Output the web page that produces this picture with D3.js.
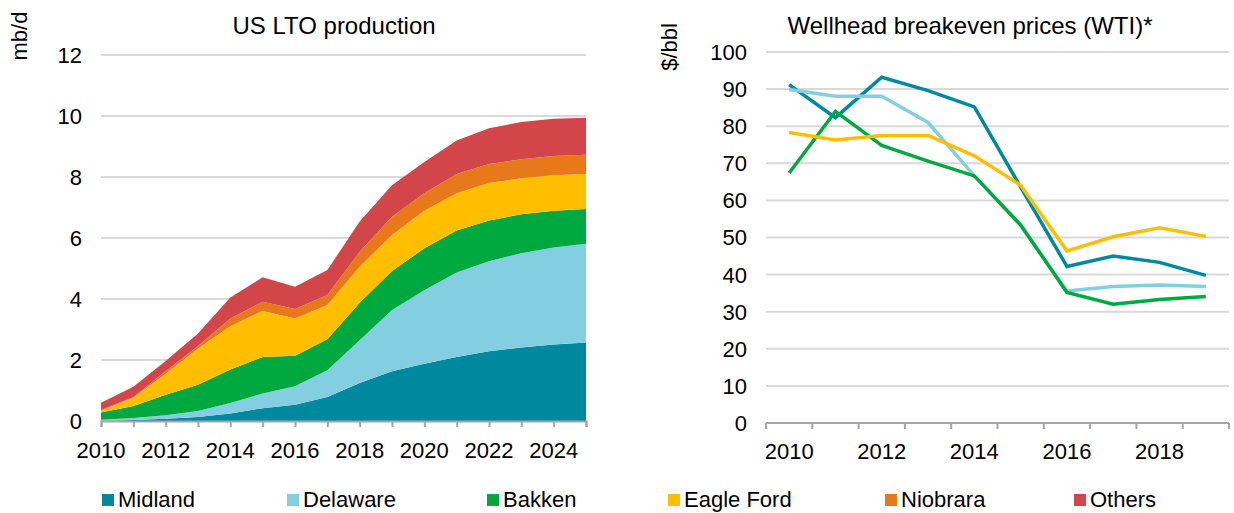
<!DOCTYPE html>
<html>
<head>
<meta charset="utf-8">
<script src="https://cdn.jsdelivr.net/npm/d3@7/dist/d3.min.js"></script>
<style>
  html, body { margin: 0; padding: 0; background: #fff; }
  svg { display: block; font-family: "Liberation Sans", Arial, sans-serif; }
</style>
</head>
<body>
<svg id="chart" width="1234" height="513"></svg>
<script>
// ---------- Data ----------
const years = [2010,2011,2012,2013,2014,2015,2016,2017,2018,2019,2020,2021,2022,2023,2024,2025];
const midland   = [0.00,0.03,0.07,0.13,0.25,0.42,0.53,0.79,1.25,1.63,1.88,2.10,2.29,2.41,2.51,2.57];
const delaware  = [0.04,0.07,0.12,0.20,0.34,0.48,0.61,0.87,1.40,2.01,2.41,2.77,2.95,3.09,3.18,3.24];
const bakken    = [0.24,0.39,0.67,0.86,1.10,1.20,1.00,1.02,1.23,1.28,1.37,1.38,1.33,1.28,1.20,1.14];
const eagleFord = [0.06,0.27,0.69,1.19,1.42,1.51,1.22,1.12,1.18,1.18,1.23,1.22,1.23,1.18,1.17,1.15];
const niobrara  = [0.02,0.03,0.08,0.08,0.25,0.30,0.31,0.33,0.49,0.60,0.58,0.63,0.63,0.62,0.63,0.63];
const others    = [0.24,0.33,0.34,0.41,0.69,0.80,0.73,0.82,0.99,1.03,1.02,1.10,1.17,1.22,1.22,1.21];
const prodTicks = [0,2,4,6,8,10,12];
const prodYearLabels = [2010,2012,2014,2016,2018,2020,2022,2024];

const beYears = [2010,2011,2012,2013,2014,2015,2016,2017,2018,2019];
const beMidland   = [91.2,82.3,93.2,89.6,85.2,63.6,42.2,45.0,43.3,39.8];
const beDelaware  = [89.9,88.1,88.1,81.0,66.6,53.2,35.6,36.8,37.2,36.8];
const beBakken    = [67.4,84.0,74.8,70.6,66.6,53.4,35.2,32.0,33.3,34.1];
const beEagleFord = [78.3,76.3,77.5,77.5,72.0,64.1,46.4,50.2,52.6,50.3];
const priceTicks = [0,10,20,30,40,50,60,70,80,90,100];
const beYearLabels = [2010,2012,2014,2016,2018];

const seriesNames  = ["Midland","Delaware","Bakken","Eagle Ford","Niobrara","Others"];
const seriesColors = ["#00889F","#83CFE1","#00A940","#FFBF00","#E8791A","#D2464A"];

// ---------- Setup ----------
const svg = d3.select("#chart");
const FONT = 22;
const gridColor = "#d9d9d9";
const axisColor = "#a6a6a6";

// ===== Left chart: stacked area =====
const L = {left: 101, right: 586, top: 55, bottom: 421};
const xL = d3.scaleLinear().domain([2010, 2025]).range([L.left, L.right]);
const yL = d3.scaleLinear().domain([0, 12]).range([L.bottom, L.top]);

const prodRows = years.map((y, i) => ({
  year: y,
  "Midland": midland[i], "Delaware": delaware[i], "Bakken": bakken[i],
  "Eagle Ford": eagleFord[i], "Niobrara": niobrara[i], "Others": others[i]
}));
const stacked = d3.stack().keys(seriesNames)(prodRows);

const gL = svg.append("g");
// gridlines
gL.append("g").selectAll("line").data(prodTicks.filter(t => t > 0)).join("line")
  .attr("x1", L.left).attr("x2", L.right)
  .attr("y1", d => yL(d)).attr("y2", d => yL(d))
  .attr("stroke", gridColor).attr("stroke-width", 2);

const area = d3.area()
  .x(d => xL(d.data.year)).y0(d => yL(d[0])).y1(d => yL(d[1]));
gL.append("g").selectAll("path").data(stacked).join("path")
  .attr("d", area).attr("fill", (d, i) => seriesColors[i]);

// y axis labels
gL.append("g").selectAll("text").data(prodTicks).join("text")
  .attr("x", 82).attr("y", d => yL(d)).attr("dy", "0.36em")
  .attr("text-anchor", "end").attr("font-size", FONT).attr("fill", "#000")
  .text(d => d);

// x axis
const xAxisL = d3.axisBottom(xL).tickValues(years).tickSize(6).tickFormat("");
const axL = gL.append("g").attr("transform", `translate(0,${L.bottom})`).call(xAxisL);
axL.select(".domain").attr("stroke", axisColor).attr("stroke-width", 2);
axL.selectAll(".tick line").attr("stroke", axisColor).attr("stroke-width", 2);
gL.append("g").selectAll("text").data(prodYearLabels).join("text")
  .attr("x", d => xL(d)).attr("y", 458)
  .attr("text-anchor", "middle").attr("font-size", FONT).attr("fill", "#000")
  .text(d => d);

// title + unit
gL.append("text").attr("x", 334).attr("y", 34).attr("text-anchor", "middle")
  .attr("font-size", 24).attr("fill", "#000").text("US LTO production");
gL.append("text").attr("transform", "translate(27,36) rotate(-90)")
  .attr("text-anchor", "middle").attr("font-size", FONT).attr("fill", "#000").text("mb/d");

// ===== Right chart: lines =====
const R = {left: 766, right: 1229, top: 52, bottom: 423};
const xR = d3.scaleBand().domain(beYears).range([R.left, R.right]);
const yR = d3.scaleLinear().domain([0, 100]).range([R.bottom, R.top]);
const gR = svg.append("g");

gR.append("g").selectAll("line").data(priceTicks.filter(t => t > 0)).join("line")
  .attr("x1", R.left).attr("x2", R.right)
  .attr("y1", d => yR(d)).attr("y2", d => yR(d))
  .attr("stroke", gridColor).attr("stroke-width", 2);

gR.append("g").selectAll("text").data(priceTicks).join("text")
  .attr("x", 747).attr("y", d => yR(d)).attr("dy", "0.36em")
  .attr("text-anchor", "end").attr("font-size", FONT).attr("fill", "#000")
  .text(d => d);

// x axis with ticks at band boundaries
const bounds = beYears.map(y => xR(y)).concat([xR(beYears[beYears.length - 1]) + xR.bandwidth()]);
gR.append("line").attr("x1", R.left).attr("x2", R.right)
  .attr("y1", R.bottom).attr("y2", R.bottom)
  .attr("stroke", axisColor).attr("stroke-width", 2);
gR.append("g").selectAll("line").data(bounds).join("line")
  .attr("x1", d => d).attr("x2", d => d)
  .attr("y1", R.bottom).attr("y2", R.bottom + 6)
  .attr("stroke", axisColor).attr("stroke-width", 2);
gR.append("g").selectAll("text").data(beYearLabels).join("text")
  .attr("x", d => xR(d) + xR.bandwidth() / 2).attr("y", 459)
  .attr("text-anchor", "middle").attr("font-size", FONT).attr("fill", "#000")
  .text(d => d);

const lineSeries = [
  {vals: beMidland, color: seriesColors[0]},
  {vals: beDelaware, color: seriesColors[1]},
  {vals: beBakken, color: seriesColors[2]},
  {vals: beEagleFord, color: seriesColors[3]}
];
const line = d3.line()
  .x((d, i) => xR(beYears[i]) + xR.bandwidth() / 2)
  .y(d => yR(d));
gR.append("g").selectAll("path").data(lineSeries).join("path")
  .attr("d", d => line(d.vals)).attr("fill", "none")
  .attr("stroke", d => d.color).attr("stroke-width", 3.5)
  .attr("stroke-linejoin", "miter");

gR.append("text").attr("x", 970).attr("y", 34).attr("text-anchor", "middle")
  .attr("font-size", 24).attr("fill", "#000").text("Wellhead breakeven prices (WTI)*");
gR.append("text").attr("transform", "translate(677,47) rotate(-90)")
  .attr("text-anchor", "middle").attr("font-size", FONT).attr("fill", "#000").text("$/bbl");

// ===== Legend =====
const legendX = [102, 287, 487, 668, 885, 1074];
const lg = svg.append("g").selectAll("g").data(seriesNames).join("g")
  .attr("transform", (d, i) => `translate(${legendX[i]},494)`);
lg.append("rect").attr("width", 12).attr("height", 12)
  .attr("fill", (d, i) => seriesColors[i]);
lg.append("text").attr("x", 16).attr("y", 13).attr("font-size", FONT)
  .attr("fill", "#000").text(d => d);
</script>
</body>
</html>
